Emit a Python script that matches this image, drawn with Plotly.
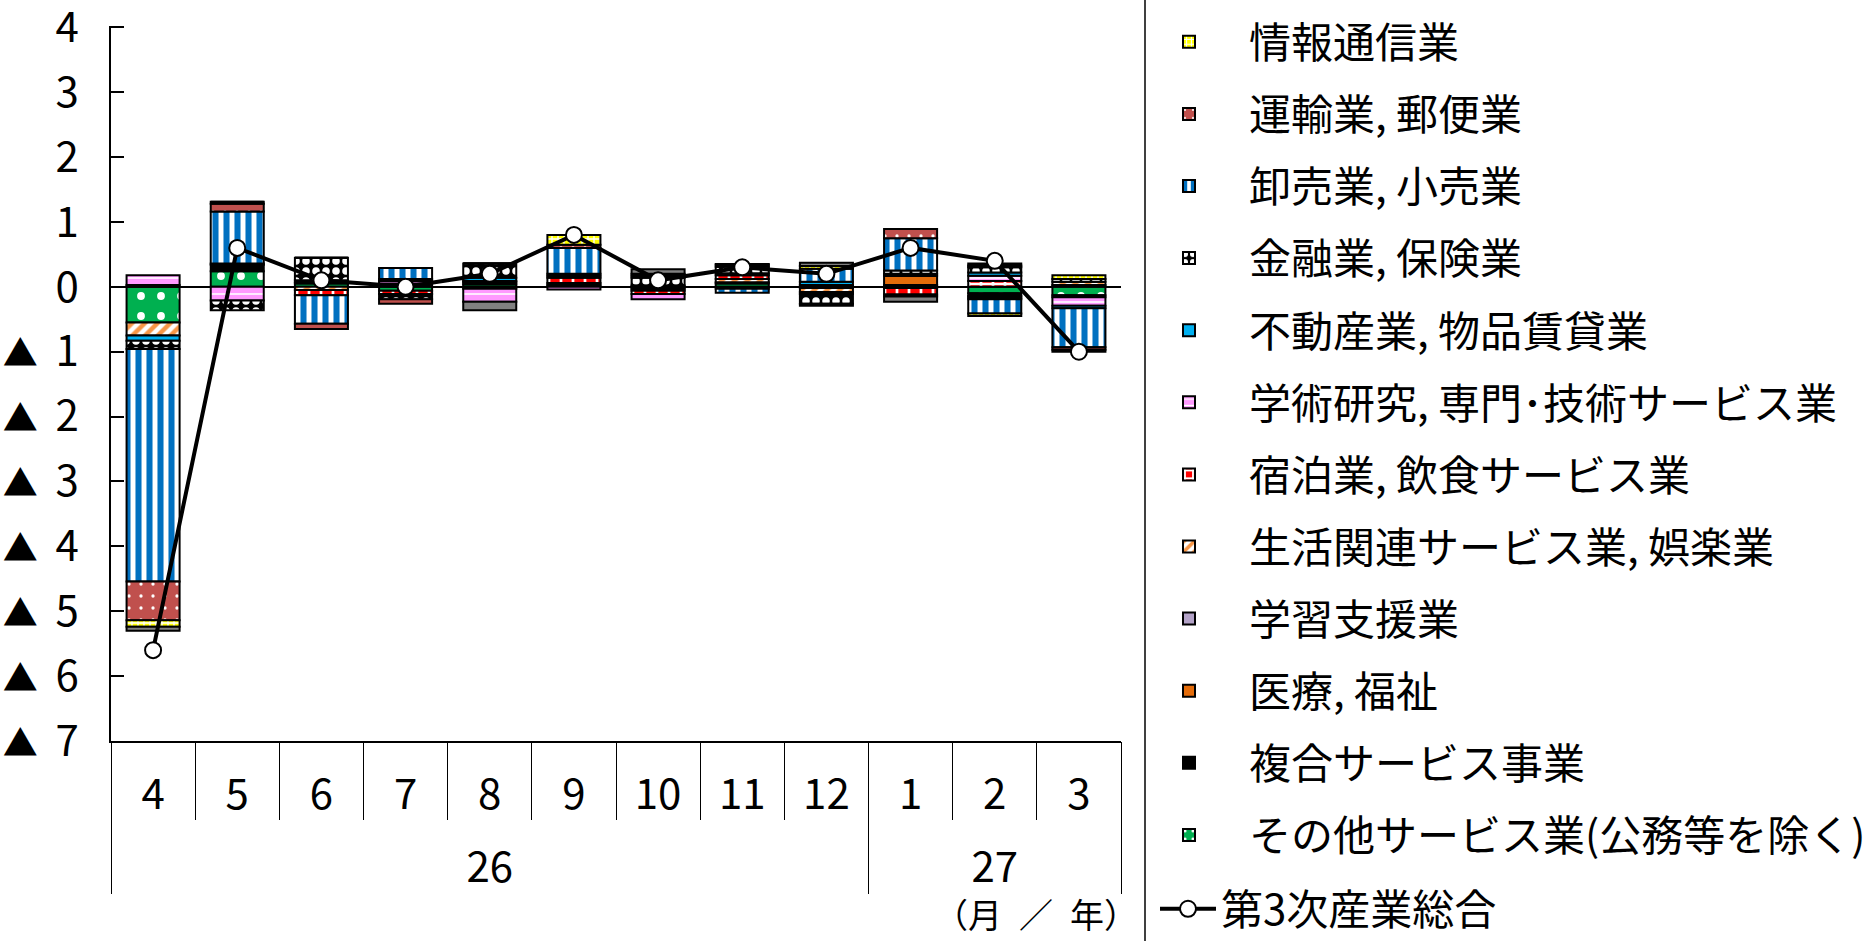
import plotly.graph_objects as go

# ---------------- data ----------------
years = ["26"] * 9 + ["27"] * 3
months = ["4", "5", "6", "7", "8", "9", "10", "11", "12", "1", "2", "3"]

# contributions (percentage points), stacking order = list order
sonota     = [-0.55, 0.24, 0.05, -0.06, 0.04, 0.00, 0.00, 0.05, 0.00, -0.02, -0.10, -0.13]
fukugo     = [0.00, 0.10, 0.02, 0.05, 0.03, 0.03, -0.03, 0.02, 0.03, 0.03, -0.04, 0.03]
iryo       = [0.03, 0.02, 0.00, 0.00, -0.03, 0.03, -0.03, 0.00, 0.00, 0.14, -0.03, 0.00]
gakushu    = [0.00, 0.00, 0.00, 0.00, 0.00, 0.00, 0.00, 0.00, -0.02, 0.00, 0.00, -0.03]
seikatsu   = [-0.20, 0.00, -0.05, 0.00, 0.00, 0.00, 0.00, 0.05, -0.06, 0.00, -0.02, 0.05]
shukuhaku  = [0.00, 0.00, -0.08, -0.05, 0.02, 0.08, -0.05, 0.06, 0.00, -0.10, 0.09, 0.00]
gakujutsu  = [0.15, -0.21, 0.03, 0.04, -0.20, -0.04, -0.08, -0.03, -0.03, -0.03, 0.08, -0.13]
fudosan    = [-0.08, 0.00, 0.00, 0.03, 0.05, 0.03, 0.02, 0.03, 0.05, 0.03, 0.05, -0.04]
kinyu      = [-0.13, -0.15, 0.35, -0.08, 0.22, 0.03, 0.12, 0.10, -0.15, 0.05, 0.08, 0.04]
oroshi     = [-3.58, 0.80, -0.44, 0.17, 0.00, 0.40, 0.03, -0.06, 0.20, 0.50, -0.22, -0.60]
unyu       = [-0.60, 0.12, -0.08, -0.07, 0.00, 0.05, 0.00, 0.03, -0.03, 0.14, 0.03, -0.04]
joho       = [-0.10, 0.03, 0.00, 0.00, 0.00, 0.15, 0.03, 0.01, 0.04, 0.00, -0.04, 0.06]
denki      = [-0.06, 0.00, 0.00, 0.00, -0.13, 0.00, 0.07, 0.00, 0.05, -0.08, 0.03, -0.03]
total      = [-5.6, 0.6, 0.1, 0.0, 0.2, 0.8, 0.1, 0.3, 0.2, 0.6, 0.4, -1.0]

ytickvals = [4, 3, 2, 1, 0, -1, -2, -3, -4, -5, -6, -7]
TRI = "<span style='font-size:35px'>▲</span>\u00a0\u2009"
yticktext = ["4", "3", "2", "1", "0"] + [TRI + str(n) for n in range(1, 8)]

FONT = "Noto Sans CJK JP"
FS = 42

# year groups derived from the category list
year_names, year_centers, year_bounds = [], [], [-0.5]
start = 0
for i in range(1, len(years) + 1):
    if i == len(years) or years[i] != years[start]:
        year_names.append(years[start])
        year_centers.append((start + i - 1) / 2)
        year_bounds.append(i - 0.5)
        start = i
month_pos = list(range(len(months)))

# (name, values, pattern dict, showlegend, legend rank)
series = [
    ("その他サービス業(公務等を除く)", sonota,
     dict(shape=".", fgcolor="white", bgcolor="#00B050", size=20, solidity=0.12, fillmode="replace"), True, 12),
    ("複合サービス事業", fukugo, dict(shape="", bgcolor="black"), True, 11),
    ("医療, 福祉", iryo, dict(shape=""), True, 10),
    ("学習支援業", gakushu, dict(shape=""), True, 9),
    ("生活関連サービス業, 娯楽業", seikatsu,
     dict(shape="/", fgcolor="#F79646", bgcolor="white", size=9, solidity=0.5, fillmode="replace"), True, 8),
    ("宿泊業, 飲食サービス業", shukuhaku,
     dict(shape="+", fgcolor="white", bgcolor="#FF0000", size=12, solidity=0.4, fillmode="replace"), True, 7),
    ("学術研究, 専門･技術サービス業", gakujutsu,
     dict(shape="-", fgcolor="white", bgcolor="#FF99FF", size=8, solidity=0.2, fillmode="replace"), True, 6),
    ("不動産業, 物品賃貸業", fudosan, dict(shape=""), True, 5),
    ("金融業, 保険業", kinyu,
     dict(shape=".", fgcolor="white", bgcolor="black", size=10, solidity=0.45, fillmode="replace"), True, 4),
    ("卸売業, 小売業", oroshi,
     dict(shape="|", fgcolor="#0070C0", bgcolor="white", size=11, solidity=0.55, fillmode="replace"), True, 3),
    ("運輸業, 郵便業", unyu,
     dict(shape=".", fgcolor="white", bgcolor="#C0504D", size=12, solidity=0.06, fillmode="replace"), True, 2),
    ("情報通信業", joho,
     dict(shape="+", fgcolor="white", bgcolor="#FFFF00", size=6, solidity=0.4, fillmode="replace"), True, 1),
    ("電気・ガス・熱供給・水道業", denki, dict(shape=""), False, 0),
]
solid_colors = {
    "複合サービス事業": "#000000",
    "医療, 福祉": "#E46C0A",
    "学習支援業": "#B3A2C7",
    "不動産業, 物品賃貸業": "#00B0F0",
    "電気・ガス・熱供給・水道業": "#808080",
}

fig = go.Figure()

for name, vals, pat, show, rank in series:
    color = solid_colors.get(name, pat.get("bgcolor", "white"))
    fig.add_trace(go.Bar(
        x=months, y=vals, name=name, legendgroup=name, showlegend=show, legendrank=rank,
        marker=dict(color=color, pattern=pat, line=dict(color="black", width=2)),
    ))

# total line on the aligned linear axis (same positions as the month categories)
fig.add_trace(go.Scatter(
    x=month_pos, y=total, name="第3次産業総合", mode="lines+markers",
    xaxis="x2", yaxis="y", legend="legend2",
    line=dict(color="black", width=4),
    marker=dict(symbol="circle", size=16, color="white", line=dict(color="black", width=2)),
))

L, R, T, B = 111, 745, 26, 200
W, H = 1866, 941
plot_w = W - L - R
plot_h = H - T - B

fig.update_layout(
    width=W, height=H,
    margin=dict(l=L, r=R, t=T, b=B, pad=0, autoexpand=False),
    paper_bgcolor="white", plot_bgcolor="white",
    barmode="relative", bargap=0.37,
    font=dict(family=FONT, size=FS, color="black"),
    legend=dict(
        xref="container", yref="container",
        x=1129 / W, y=1 - 8 / H, xanchor="left", yanchor="top",
        traceorder="grouped", tracegroupgap=14.5, itemwidth=110,
        maxheight=2000,
        font=dict(family=FONT, size=42, color="black"),
        bgcolor="rgba(0,0,0,0)",
    ),
    legend2=dict(
        xref="container", yref="container",
        x=1155 / W, y=1 - 909 / H, xanchor="left", yanchor="middle",
        itemwidth=56,
        font=dict(family=FONT, size=42, color="black"),
        bgcolor="rgba(0,0,0,0)",
    ),
    xaxis=dict(
        type="category", categoryorder="array", categoryarray=months,
        range=[-0.5, len(months) - 0.5], autorange=False,
        showline=True, linecolor="black", linewidth=1.5,
        ticks="outside", tickson="boundaries", ticklen=77, tickwidth=1, tickcolor="black",
        showgrid=False, zeroline=False, automargin=False,
        ticklabelstandoff=16,
        tickfont=dict(family=FONT, size=FS, color="black"),
    ),
    xaxis2=dict(
        overlaying="x", anchor="y", side="bottom", type="linear",
        range=[-0.5, len(months) - 0.5], autorange=False,
        tickmode="array", tickvals=year_centers, ticktext=year_names,
        ticks="", showline=False, showgrid=False, zeroline=False, automargin=False,
        ticklabelstandoff=98,
        tickfont=dict(family=FONT, size=FS, color="black"),
        minor=dict(tickmode="array", tickvals=year_bounds, ticks="outside",
                   ticklen=152, tickwidth=1, tickcolor="black", showgrid=False),
    ),
    yaxis=dict(
        range=[-7, 4.02], autorange=False, tickvals=ytickvals, ticktext=yticktext,
        showline=True, linecolor="black", linewidth=1.5,
        ticks="inside", ticklen=13, tickwidth=1.5, tickcolor="black",
        showgrid=False, zeroline=True, zerolinecolor="black", zerolinewidth=1.5,
        ticklabelstandoff=22, automargin=False, ticklabeloverflow="allow",
        tickfont=dict(family=FONT, size=FS, color="black"),
    ),
    shapes=[dict(
        type="line", xref="paper", yref="paper",
        x0=(1145 - L) / plot_w, x1=(1145 - L) / plot_w,
        y0=(H - B - H) / plot_h, y1=(H - B) / plot_h,
        line=dict(color="black", width=1.5),
    )],
    annotations=[dict(
        text="（月\u2002／\u2002年）", xref="paper", yref="paper",
        x=(1140 - L) / plot_w, y=(H - B - 940) / plot_h, xanchor="right", yanchor="bottom",
        showarrow=False, font=dict(family=FONT, size=34, color="black"),
    )],
)

fig.write_html("out.html")
